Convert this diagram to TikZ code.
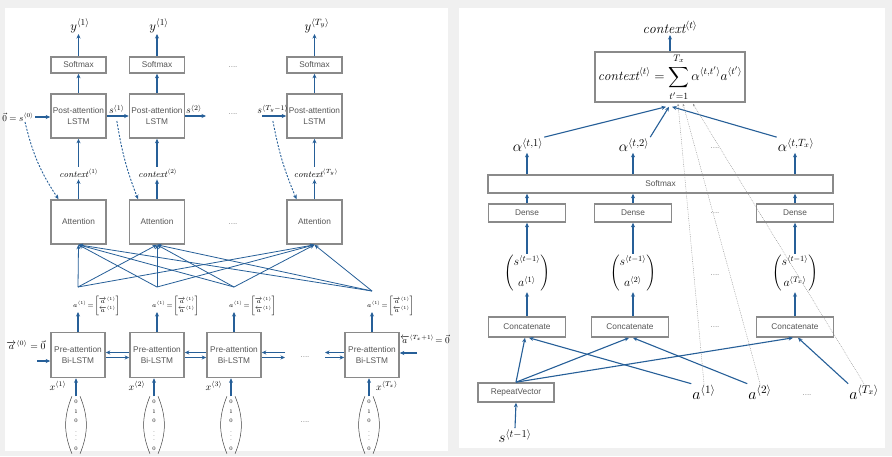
\RequirePackage{fix-cm}
\documentclass[tikz,border=0pt]{standalone}
\usepackage{amsmath}
\usepackage{fontspec}
\setsansfont{Liberation Sans}
\usetikzlibrary{arrows.meta,calc}
\definecolor{arrblue}{RGB}{38,95,152}
\definecolor{boxgray}{RGB}{138,138,138}
\definecolor{txtgray}{RGB}{85,85,85}
\definecolor{bggray}{RGB}{240,240,240}
\definecolor{dotgray}{RGB}{140,140,140}
\begin{document}
\begin{tikzpicture}[x=1pt,y=-1pt,
  box/.style={draw=boxgray,line width=1.6pt,fill=white,inner sep=0pt,align=center,text=txtgray,font=\sffamily\fontsize{8.3}{11}\selectfont},
  arr/.style={draw=arrblue,line width=1.1pt,-{Stealth[length=4.5pt,width=4pt]}},
  farr/.style={arr,line width=0.8pt},
  darr/.style={arr,dash pattern=on 2pt off 1.5pt,line width=0.9pt},
  dotl/.style={draw=dotgray,line width=0.4pt,dash pattern=on 0.8pt off 1pt,-{Stealth[length=2.5pt,width=2pt]}},
  lbl/.style={inner sep=1pt,text=black},
  ell/.style={text=dotgray,font=\sffamily\fontsize{8}{9}\selectfont,inner sep=0pt},
  paren/.style={draw=black!75,line width=0.5pt},
]
\fill[bggray] (0,0) rectangle (892,456);
\fill[white] (5,8) rectangle (448,451);
\fill[white] (459,8) rectangle (885,448);
\useasboundingbox (0,0) rectangle (892,456);

% ===== left panel: decoder =====
\foreach \i/\x in {1/78.5,2/157,3/314.5} {
  \node[box,minimum width=55pt,minimum height=16pt] (sm\i) at (\x,65) {Softmax};
  \node[box,minimum width=55pt,minimum height=44pt] (pl\i) at (\x,116) {Post-attention\\LSTM};
  \node[box,minimum width=55pt,minimum height=44pt] (at\i) at (\x,222) {Attention};
  \draw[arr] (pl\i.north) -- (sm\i.south);
}
\node[lbl,anchor=south,font=\fontsize{13}{15}\selectfont] (y1) at (80,34) {$y^{\langle 1\rangle}$};
\node[lbl,anchor=south,font=\fontsize{13}{15}\selectfont] (y2) at (159,34) {$y^{\langle 1\rangle}$};
\node[lbl,anchor=south,font=\fontsize{13}{15}\selectfont] (y3) at (317,34) {$y^{\langle T_y\rangle}$};
\foreach \i in {1,2,3} \draw[arr] (sm\i.north) -- (sm\i.north |- y\i.south);

\node[lbl,inner sep=2pt,font=\fontsize{9}{11}\selectfont] (c1) at (79,173) {$\mathit{context}^{\langle 1\rangle}$};
\node[lbl,inner sep=2pt,font=\fontsize{9}{11}\selectfont] (c2) at (158,173) {$\mathit{context}^{\langle 2\rangle}$};
\node[lbl,inner sep=2pt,font=\fontsize{9}{11}\selectfont] (c3) at (316,173) {$\mathit{context}^{\langle T_y\rangle}$};
\foreach \i in {1,2,3} {
  \draw[arr] (at\i.north) -- (at\i.north |- c\i.south);
  \draw[arr] (pl\i.south |- c\i.north) -- (pl\i.south);
}

\node[lbl,anchor=east,font=\fontsize{9}{11}\selectfont] (s0) at (35,117) {$\vec{0}=s^{\langle 0\rangle}$};
\draw[arr] (s0.east) -- (s0.east -| pl1.west);
\draw[darr] ([xshift=-10pt,yshift=-5pt]s0.east) to[bend right=10] ([xshift=-20pt]at1.north);

\draw[arr] (pl1.east) -- coordinate[pos=0.46] (s1p) (pl2.west);
\node[lbl,anchor=south,font=\fontsize{10}{12}\selectfont] (s1) at ([yshift=1pt]s1p) {$s^{\langle 1\rangle}$};
\draw[darr] ([yshift=-5pt]s1p) to[bend right=6] ([xshift=-19pt]at2.north);

\coordinate (s2e) at (206,116);
\draw[arr] (pl2.east) -- coordinate[pos=0.42] (s2p) (s2e);
\node[lbl,anchor=south,font=\fontsize{10}{12}\selectfont] (s2) at ([yshift=1pt]s2p) {$s^{\langle 2\rangle}$};

\coordinate (sTs) at (262,116);
\draw[arr] (sTs) -- coordinate[pos=0.45] (sTp) (pl3.west);
\node[lbl,anchor=south,font=\fontsize{10}{12}\selectfont] (sT) at ([yshift=1pt]sTp) {$s^{\langle T_y-1\rangle}$};
\draw[darr] ([yshift=-5pt]sTp) to[bend right=6] ([xshift=-18pt]at3.north);

\node[ell] (e1) at (233,67) {....};
\node[ell] (e2) at (233,114) {....};
\node[ell] (e3) at (233,224) {....};

% ===== left panel: encoder =====
\foreach \i/\x in {1/78,2/157,3/234,4/372} {
  \node[box,minimum width=54pt,minimum height=45pt] (pre\i) at (\x,355) {Pre-attention\\Bi-LSTM};
  \coordinate (f\i) at (\x,287);
  \draw[arr] (pre\i.north) -- (\x,312) coordinate (ta\i);
  \node[lbl,anchor=west,inner sep=0pt,font=\fontsize{6.5}{7.5}\selectfont] (al\i) at (\x-5,306)
    {$a^{\langle 1\rangle}\!=\!\begin{bmatrix}\overrightarrow{a}^{\langle 1\rangle}\\[1pt] \overleftarrow{a}^{\langle 1\rangle}\end{bmatrix}$};
}
\coordinate (f4) at (372,291);
\foreach \s in {1,2,3,4} \foreach \t in {1,2,3} \draw[farr] (f\s) -- (at\t.south);

% horizontal bi-directional arrows
\draw[arr] ([yshift=2.5pt]pre2.west) -- ([yshift=2.5pt]pre1.east);
\draw[arr] ([yshift=-2.5pt]pre1.east) -- ([yshift=-2.5pt]pre2.west);
\draw[arr] ([yshift=2.5pt]pre3.west) -- ([yshift=2.5pt]pre2.east);
\draw[arr] ([yshift=-2.5pt]pre2.east) -- ([yshift=-2.5pt]pre3.west);
\coordinate (d1) at (285,355);
\coordinate (d2) at (325,355);
\draw[arr] ([yshift=2.5pt]d1) -- ([yshift=2.5pt]pre3.east);
\draw[arr] ([yshift=-2.5pt]pre3.east) -- ([yshift=-2.5pt]d1);
\draw[arr] ([yshift=2.5pt]pre4.west) -- ([yshift=2.5pt]d2);
\draw[arr] ([yshift=-2.5pt]d2) -- ([yshift=-2.5pt]pre4.west);
\node[ell] (e4) at (305,357) {....};

\node[lbl,font=\fontsize{9.5}{11}\selectfont] (a0) at (26,345) {$\overrightarrow{a}^{\langle 0\rangle}=\vec{0}$};
\coordinate (in0) at (37,361);
\draw[arr] (in0) -- (in0 -| pre1.west);
\node[lbl,font=\fontsize{9}{11}\selectfont] (aT) at (425,339) {$\overleftarrow{a}^{\langle T_x+1\rangle}\!=\vec{0}$};
\coordinate (inR) at (417,353);
\draw[arr] (inR) -- (inR -| pre4.east);

% one-hot inputs
\foreach \i/\x in {1/76,2/154,3/231,4/369} {
  \node[inner xsep=2.2pt,inner ysep=0.5pt,font=\fontsize{5.5}{9.6}\selectfont] (v\i) at (\x,425)
    {\begin{tabular}{@{}c@{}}0\\1\\0\\\vdots\\0\end{tabular}};
  \draw[paren] (v\i.north west) to[bend right=22] (v\i.south west);
  \draw[paren] (v\i.north east) to[bend left=22] (v\i.south east);
  \draw[arr] (v\i.north) -- (v\i.north |- pre\i.south);
}
\node[lbl,font=\fontsize{10}{12}\selectfont] (x1) at (58,386) {$x^{\langle 1\rangle}$};
\node[lbl,font=\fontsize{10}{12}\selectfont] (x2) at (137,386) {$x^{\langle 2\rangle}$};
\node[lbl,font=\fontsize{10}{12}\selectfont] (x3) at (214,386) {$x^{\langle 3\rangle}$};
\node[lbl,font=\fontsize{10}{12}\selectfont] (x4) at (387,386) {$x^{\langle T_x\rangle}$};
\node[ell] (e5) at (305,422) {....};

% ===== right panel =====
\node[box,minimum width=150pt,minimum height=50pt,text=black,font=\fontsize{13.5}{16}\selectfont] (cb) at (670,77)
  {$\displaystyle\mathit{context}^{\langle t\rangle}=\sum_{\rule{0pt}{8pt}t'=1}^{T_x\rule[-2.5pt]{0pt}{0pt}}\alpha^{\langle t,t'\rangle}a^{\langle t'\rangle}$};
\node[lbl,anchor=south,font=\fontsize{14}{16}\selectfont] (ctop) at (670,35) {$\mathit{context}^{\langle t\rangle}$};
\draw[arr] (cb.north) -- (ctop.south);

\node[lbl,font=\fontsize{15}{17}\selectfont] (al1r) at (528,145) {$\alpha^{\langle t,1\rangle}$};
\node[lbl,font=\fontsize{15}{17}\selectfont] (al2r) at (634,145) {$\alpha^{\langle t,2\rangle}$};
\node[lbl,font=\fontsize{15}{17}\selectfont] (al3r) at (796,145) {$\alpha^{\langle t,T_x\rangle}$};
\node[ell] (e6) at (715,148) {....};
\draw[arr] (al1r.north east) -- ([xshift=-4pt,yshift=-4pt]cb.south);
\draw[arr] (al2r.north east) -- ([xshift=-1pt,yshift=-4pt]cb.south);
\draw[arr] (al3r.north west) -- ([xshift=2pt,yshift=-4pt]cb.south);

\node[box,minimum width=345pt,minimum height=18pt] (smr) at (660.5,184) {Softmax};
\foreach \i/\x in {1/527,2/633,3/795} {
  \node[box,minimum width=77pt,minimum height=18pt] (dn\i) at (\x,213) {Dense};
  \draw[arr] (dn\i.north) -- (dn\i.north |- smr.south);
}
\draw[arr] (dn1.north |- smr.north) -- (dn1.north |- al1r.south);
\draw[arr] (dn2.north |- smr.north) -- (dn2.north |- al2r.south);
\draw[arr] (dn3.north |- smr.north) -- (dn3.north |- al3r.south);
\node[ell] (e7) at (715,213) {....};

\node[lbl,font=\fontsize{12}{14}\selectfont] (sv1) at (527,273) {$\begin{pmatrix}s^{\langle t-1\rangle}\\[6pt] a^{\langle 1\rangle}\end{pmatrix}$};
\node[lbl,font=\fontsize{12}{14}\selectfont] (sv2) at (633,273) {$\begin{pmatrix}s^{\langle t-1\rangle}\\[6pt] a^{\langle 2\rangle}\end{pmatrix}$};
\node[lbl,font=\fontsize{12}{14}\selectfont] (sv3) at (795,273) {$\begin{pmatrix}s^{\langle t-1\rangle}\\[6pt] a^{\langle T_x\rangle}\end{pmatrix}$};
\node[ell] (e8) at (715,275) {....};

\node[box,minimum width=77pt,minimum height=20pt] (cc1) at (527,327) {Concatenate};
\node[box,minimum width=77pt,minimum height=20pt] (cc2) at (630,327) {Concatenate};
\node[box,minimum width=77pt,minimum height=20pt] (cc3) at (795,327) {Concatenate};
\node[ell] (e9) at (715,327) {....};
\foreach \i in {1,2,3} {
  \draw[arr] (sv\i.north) -- (sv\i.north |- dn\i.south);
  \draw[arr] (sv\i.south |- cc\i.north) -- (sv\i.south);
}

\node[box,minimum width=76pt,minimum height=19pt] (rv) at (516,392.5) {RepeatVector};
\node[lbl,font=\fontsize{15}{17}\selectfont] (sb) at (515,436) {$s^{\langle t-1\rangle}$};
\draw[arr] (sb.north) -- (rv.south);
\draw[arr] (rv.north) -- ([xshift=-2pt]cc1.south);
\draw[arr] (rv.north) -- ([xshift=-1pt]cc2.south);
\draw[arr] (rv.north) -- ([xshift=-2pt]cc3.south);

\node[lbl,font=\fontsize{16}{18}\selectfont] (ab1) at (704,392) {$a^{\langle 1\rangle}$};
\node[lbl,font=\fontsize{16}{18}\selectfont] (ab2) at (760,392) {$a^{\langle 2\rangle}$};
\node[lbl,font=\fontsize{16}{18}\selectfont] (ab3) at (864,392) {$a^{\langle T_x\rangle}$};
\node[ell] (e10) at (807,395) {....};
\draw[arr] (ab1.north west) -- ([xshift=2pt]cc1.south);
\draw[arr] (ab2.north west) -- ([xshift=3pt]cc2.south);
\draw[arr] (ab3.north west) -- ([xshift=3pt]cc3.south);

\draw[dotl] (ab1.north) -- ([xshift=8pt,yshift=-1pt]cb.south);
\draw[dotl] (ab2.north) -- ([xshift=13pt,yshift=-1pt]cb.south);
\draw[dotl] (ab3.north) -- ([xshift=23pt,yshift=-1pt]cb.south);
\end{tikzpicture}
\end{document}
